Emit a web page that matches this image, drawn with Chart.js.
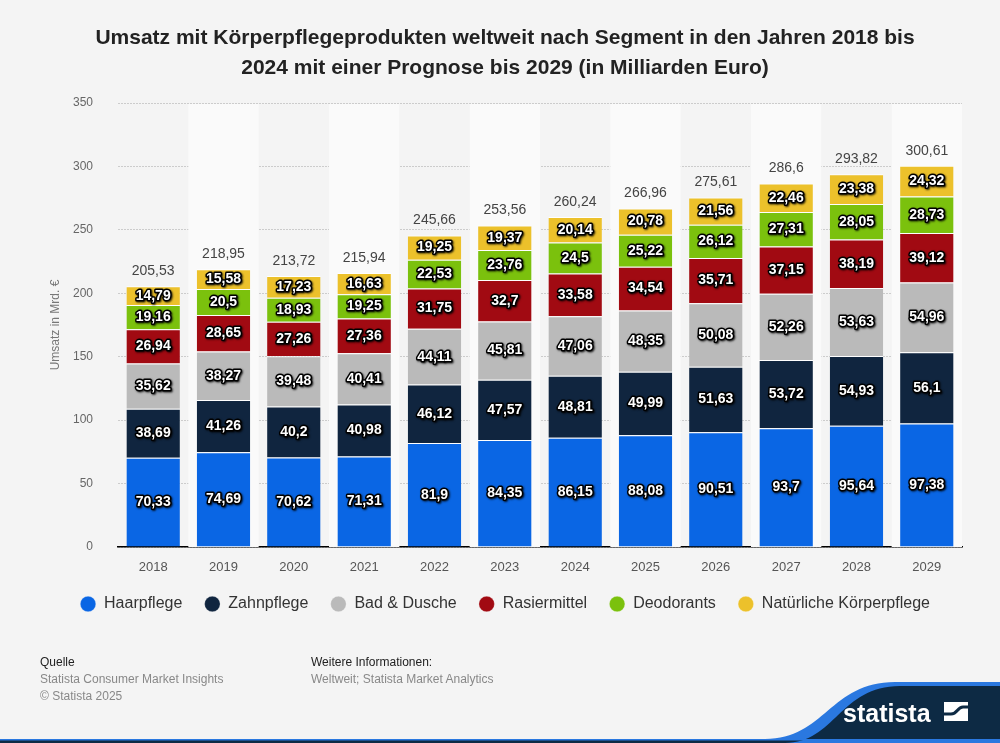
<!DOCTYPE html>
<html>
<head>
<meta charset="utf-8">
<script src="https://cdn.jsdelivr.net/npm/chart.js@4.4.1/dist/chart.umd.min.js"></script>
<style>
  html, body { margin: 0; padding: 0; background: #f4f4f4; }
  #wrap { position: relative; width: 1000px; height: 743px; overflow: hidden; font-family: 'Liberation Sans', Arial, sans-serif; }
  #chart { position: absolute; left: 0; top: 0; }
  .foot { position: absolute; font-size: 12px; line-height: 17px; color: #888; }
  .foot b { font-weight: normal; color: #222; }
  #logo { position: absolute; left: 0; bottom: 0; }
</style>
</head>
<body>
<div id="wrap">
  <canvas id="chart" width="1000" height="743"></canvas>
  <div class="foot" style="left:40px; top:654px;"><b>Quelle</b><br>Statista Consumer Market Insights<br>© Statista 2025</div>
  <div class="foot" style="left:311px; top:654px;"><b>Weitere Informationen:</b><br>Weltweit; Statista Market Analytics</div>
  <svg id="logo" width="1000" height="64" viewBox="0 0 1000 64">
    <path d="M0 60 L765 60 C825 60 830 3 895 3 L1000 3 L1000 64 L0 64 Z" fill="#2a78e0"/>
    <path d="M785 64 C835 64 840 7 900 7 L1000 7 L1000 61 L0 61 L0 64 Z" fill="#0d2a44"/>
    <rect x="0" y="60" width="1000" height="1.5" fill="#2a78e0"/>
    <text x="843" y="43" fill="#fff" font-family="'Liberation Sans', Arial, sans-serif" font-weight="bold" font-size="25">statista</text>
    <rect x="944" y="23" width="24" height="19" fill="#fff"/>
    <path d="M944 35 L951 35 C958 35 957 28 963 28 L968 28" fill="none" stroke="#0d2a44" stroke-width="3"/>
  </svg>
</div>
<script>
const years = ['2018', '2019', '2020', '2021', '2022', '2023', '2024', '2025', '2026', '2027', '2028', '2029']
const haarpflege = [70.33, 74.69, 70.62, 71.31, 81.9, 84.35, 86.15, 88.08, 90.51, 93.7, 95.64, 97.38]
const zahnpflege = [38.69, 41.26, 40.2, 40.98, 46.12, 47.57, 48.81, 49.99, 51.63, 53.72, 54.93, 56.1]
const badDusche = [35.62, 38.27, 39.48, 40.41, 44.11, 45.81, 47.06, 48.35, 50.08, 52.26, 53.63, 54.96]
const rasiermittel = [26.94, 28.65, 27.26, 27.36, 31.75, 32.7, 33.58, 34.54, 35.71, 37.15, 38.19, 39.12]
const deodorants = [19.16, 20.5, 18.93, 19.25, 22.53, 23.76, 24.5, 25.22, 26.12, 27.31, 28.05, 28.73]
const natuerlich = [14.79, 15.58, 17.23, 16.63, 19.25, 19.37, 20.14, 20.78, 21.56, 22.46, 23.38, 24.32]
const totals = [205.53, 218.95, 213.72, 215.94, 245.66, 253.56, 260.24, 266.96, 275.61, 286.6, 293.82, 300.61]
const yTicks = [0, 50, 100, 150, 200, 250, 300, 350]

const fmt = (v) => String(v).replace('.', ',')

// light stripes behind every second year
const bandPlugin = {
  id: 'bands',
  beforeDatasetsDraw(chart) {
    const { ctx, chartArea, scales } = chart
    const step = (chartArea.right - chartArea.left) / years.length
    ctx.save()
    ctx.fillStyle = '#fafafa'
    years.forEach((y, i) => {
      if (i % 2 === 1) {
        const cx = scales.x.getPixelForValue(i)
        ctx.fillRect(cx - step / 2, chartArea.top + 1, step, chartArea.bottom - chartArea.top - 1)
      }
    })
    ctx.restore()
  },
}

// segment values and totals
const labelPlugin = {
  id: 'labels',
  afterDatasetsDraw(chart) {
    const { ctx } = chart
    ctx.save()
    ctx.textAlign = 'center'
    ctx.textBaseline = 'middle'
    ctx.font = 'bold 14px "Liberation Sans", Arial, sans-serif'
    ctx.lineJoin = 'round'
    chart.data.datasets.forEach((ds, di) => {
      chart.getDatasetMeta(di).data.forEach((bar, i) => {
        const y = (bar.y + bar.base) / 2
        ctx.shadowColor = 'rgba(0,0,0,0.8)'
        ctx.shadowBlur = 2
        ctx.shadowOffsetX = 1
        ctx.shadowOffsetY = 1
        ctx.strokeStyle = '#000'
        ctx.lineWidth = 3
        ctx.strokeText(fmt(ds.data[i]), bar.x, y)
        ctx.shadowColor = 'transparent'
        ctx.fillStyle = '#fff'
        ctx.fillText(fmt(ds.data[i]), bar.x, y)
      })
    })
    const last = chart.getDatasetMeta(chart.data.datasets.length - 1)
    ctx.font = '14px "Liberation Sans", Arial, sans-serif'
    ctx.fillStyle = '#444'
    last.data.forEach((bar, i) => {
      ctx.fillText(fmt(totals[i]), bar.x, bar.y - 15)
    })
    ctx.restore()
  },
}

const series = [
  { label: 'Haarpflege', data: haarpflege, color: '#0a66e4' },
  { label: 'Zahnpflege', data: zahnpflege, color: '#10253f' },
  { label: 'Bad & Dusche', data: badDusche, color: '#bababa' },
  { label: 'Rasiermittel', data: rasiermittel, color: '#a10a12' },
  { label: 'Deodorants', data: deodorants, color: '#7bc10d' },
  { label: 'Natürliche Körperpflege', data: natuerlich, color: '#ecc12b' },
]

Chart.defaults.font.family = '"Liberation Sans", Arial, sans-serif'

new Chart(document.getElementById('chart'), {
  type: 'bar',
  data: {
    labels: years,
    datasets: series.map((s) => ({
      label: s.label,
      data: s.data,
      backgroundColor: s.color,
      borderColor: '#ffffff',
      borderWidth: { top: 1, bottom: 0, left: 0, right: 0 },
      borderSkipped: false,
      barPercentage: 0.76,
      categoryPercentage: 1,
    })),
  },
  options: {
    responsive: false,
    animation: false,
    layout: { padding: { left: 48, right: 38, top: 10, bottom: 121 } },
    scales: {
      x: {
        stacked: true,
        grid: { display: false },
        border: { display: true, color: '#000', width: 1.5 },
        ticks: { color: '#555', font: { size: 13 }, padding: 5 },
        afterFit: (scale) => { scale.height = 27 },
      },
      y: {
        stacked: true,
        min: 0,
        max: 350,
        afterBuildTicks: (scale) => { scale.ticks = yTicks.map((v) => ({ value: v })) },
        afterFit: (scale) => { scale.width = 70 },
        grid: { color: '#cccccc', drawTicks: false, lineWidth: 1 },
        border: { display: false, dash: [2, 1] },
        ticks: { color: '#666', font: { size: 12 }, padding: 25 },
        title: { display: true, text: 'Umsatz in Mrd. €', color: '#777', font: { size: 12 }, padding: 0 },
      },
    },
    plugins: {
      title: {
        display: true,
        text: ['Umsatz mit Körperpflegeprodukten weltweit nach Segment in den Jahren 2018 bis', '2024 mit einer Prognose bis 2029 (in Milliarden Euro)'],
        color: '#222',
        font: { size: 21, weight: 'bold', lineHeight: 1.43 },
        padding: { top: 13, bottom: 20 },
      },
      legend: {
        position: 'bottom',
        labels: {
          usePointStyle: true,
          pointStyle: 'circle',
          boxWidth: 16,
          boxHeight: 11,
          padding: 22,
          color: '#333',
          font: { size: 16 },
        },
      },
      tooltip: { enabled: false },
    },
  },
  plugins: [bandPlugin, labelPlugin],
})
</script>
</body>
</html>
